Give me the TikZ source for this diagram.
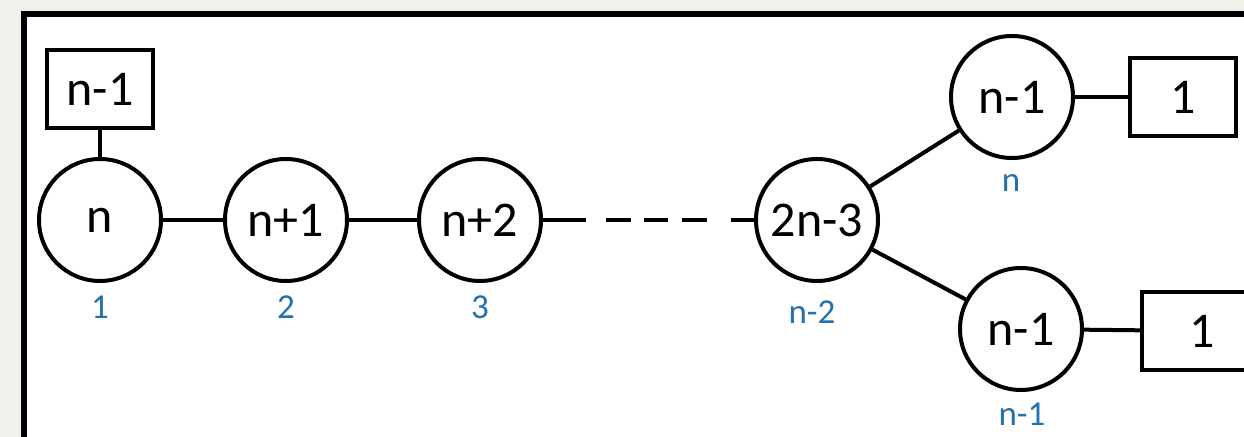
\documentclass[tikz,border=0pt]{standalone}
\usepackage{fontspec}
\setmainfont{Carlito}
\definecolor{bgc}{HTML}{F2F0EB}
\definecolor{lblue}{HTML}{2471AC}
\begin{document}
\begin{tikzpicture}[x=0.5pt,y=-0.5pt,
  circ/.style={draw,circle,line width=2pt,minimum size=61pt,inner sep=0pt,font=\fontsize{25}{27}\selectfont},
  boxn/.style={draw,rectangle,line width=2pt,minimum width=53pt,minimum height=39pt,inner sep=0pt,font=\fontsize{25}{27}\selectfont},
  lbl/.style={text=lblue,font=\fontsize{17.5}{19}\selectfont,inner sep=0pt},
  edge/.style={line width=2pt}]
\useasboundingbox (0,0) rectangle (1244,437);
\fill[bgc] (0,0) rectangle (1244,437);
\begin{scope}
\clip (0,0) rectangle (1244,437);
\draw[line width=2.6pt,fill=white] (24,14) rectangle (1270,460);
\node[circ] (c1) at (100,220) {n};
\node[boxn] (b1) at (100,89) {n-1};
\node[circ] (c2) at (286,220) {n+1};
\node[circ] (c3) at (480,220) {n+2};
\node[circ] (c4) at (817,220) {2n-3};
\node[circ] (c5) at (1012,97) {n-1};
\node[circ] (c6) at (1021,329) {n-1};
\node[boxn] (b2) at (1183,97) {1};
\node[boxn,minimum width=60pt] (b3) at (1202,331) {1};
\node[lbl] (l1) at (100,307) {1};
\node[lbl] (l2) at (286,307) {2};
\node[lbl] (l3) at (480,307) {3};
\node[lbl] (l4) at (812,312) {n-2};
\node[lbl] (l5) at (1011,183) {n};
\node[lbl] (l6) at (1022,414) {n-1};
\draw[edge] (b1) -- (c1);
\draw[edge] (c1) -- (c2);
\draw[edge] (c2) -- (c3);
\draw[edge,dash pattern=on 21.5pt off 10pt on 12.5pt off 6.5pt on 12pt off 7pt on 12.5pt off 12pt on 14pt] (c3) -- (c4);
\draw[edge] (c4) -- (c5);
\draw[edge] (c4) -- (c6);
\draw[edge] (c5) -- (b2);
\draw[edge] (c6) -- (b3);
\end{scope}
\end{tikzpicture}
\end{document}
